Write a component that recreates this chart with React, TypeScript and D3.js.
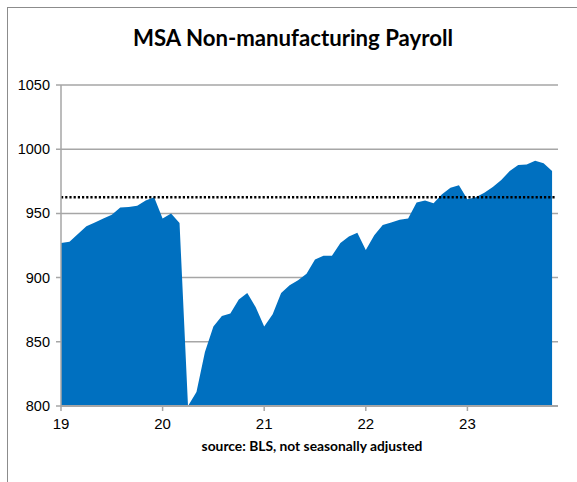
import React from 'react';
import * as d3 from 'd3';

// monthly values, Jan 2019 .. Nov 2023 (thousands)
const payroll = [
	927, 928, 934, 940, 943, 946, 949, 954.5, 955, 956, 960, 962.5,
	946, 950, 942.5, 800, 811, 842, 862, 870, 872, 883, 888, 877,
	862, 871.5, 888, 894, 898, 903, 914, 917, 917, 927, 932, 935,
	921.5, 933, 941, 943, 945, 946, 958.5, 960, 958, 965, 970, 972,
	961, 962.5, 966, 970.5, 976, 983, 987.7, 988, 991, 989, 983,
];
const average = 962.5;
const yearLabels = ['19', '20', '21', '22', '23'];
const yTicks = [800, 850, 900, 950, 1000, 1050];

const W = 577;
const H = 482;
const margin = { top: 85, right: 19, bottom: 76, left: 61 };

export default function App() {
	const innerW = W - margin.left - margin.right;
	const innerH = H - margin.top - margin.bottom;

	const x = d3.scaleLinear().domain([0, 58.7]).range([0, innerW]);
	const y = d3.scaleLinear().domain([800, 1050]).range([innerH, 0]);

	const area = d3.area<number>()
		.x((d, i) => x(i))
		.y0(innerH)
		.y1(d => y(d));

	const grid = '#a6a6a6';

	return (
		<svg width={W} height={H} style={{ position: 'absolute', left: 0, top: 0 }}>
			<rect x={7.5} y={7.5} width={W + 10} height={H + 10} fill="white" stroke="#8c8c8c" />
			<text x={293} y={46} textAnchor="middle" fontFamily="Lato, 'Open Sans', sans-serif"
				fontWeight="bold" fontSize={22.2} fill="#000">MSA Non-manufacturing Payroll</text>
			<g transform={`translate(${margin.left},${margin.top})`}>
				{yTicks.map(t => (
					<g key={t}>
						<line x1={-5} x2={innerW} y1={y(t)} y2={y(t)} stroke={grid} strokeWidth={1.5} />
						<text x={-11} y={y(t)} dy="0.35em" textAnchor="end"
							fontFamily="'Liberation Sans', Arial, sans-serif" fontSize={14.5}>{t}</text>
					</g>
				))}
				<path d={area(payroll) ?? ''} fill="#0070C0" />
				<line x1={x(0)} x2={x(58.3)} y1={y(average)} y2={y(average)} stroke="#000"
					strokeWidth={2.5} strokeDasharray="2.2 2" />
				<line x1={0} x2={0} y1={0} y2={innerH} stroke={grid} strokeWidth={1.5} />
				<line x1={0} x2={innerW} y1={innerH} y2={innerH} stroke={grid} strokeWidth={2} />
				{yearLabels.map((lab, i) => (
					<g key={lab} transform={`translate(${x(i * 12)},${innerH})`}>
						<line y1={0} y2={5} stroke={grid} strokeWidth={1.5} />
						<text y={23} textAnchor="middle"
							fontFamily="'Liberation Sans', Arial, sans-serif" fontSize={15}>{lab}</text>
					</g>
				))}
			</g>
			<text x={312} y={451} textAnchor="middle" fontFamily="Lato, 'Open Sans', sans-serif"
				fontWeight="bold" fontSize={13.8}>source: BLS, not seasonally adjusted</text>
		</svg>
	);
}
